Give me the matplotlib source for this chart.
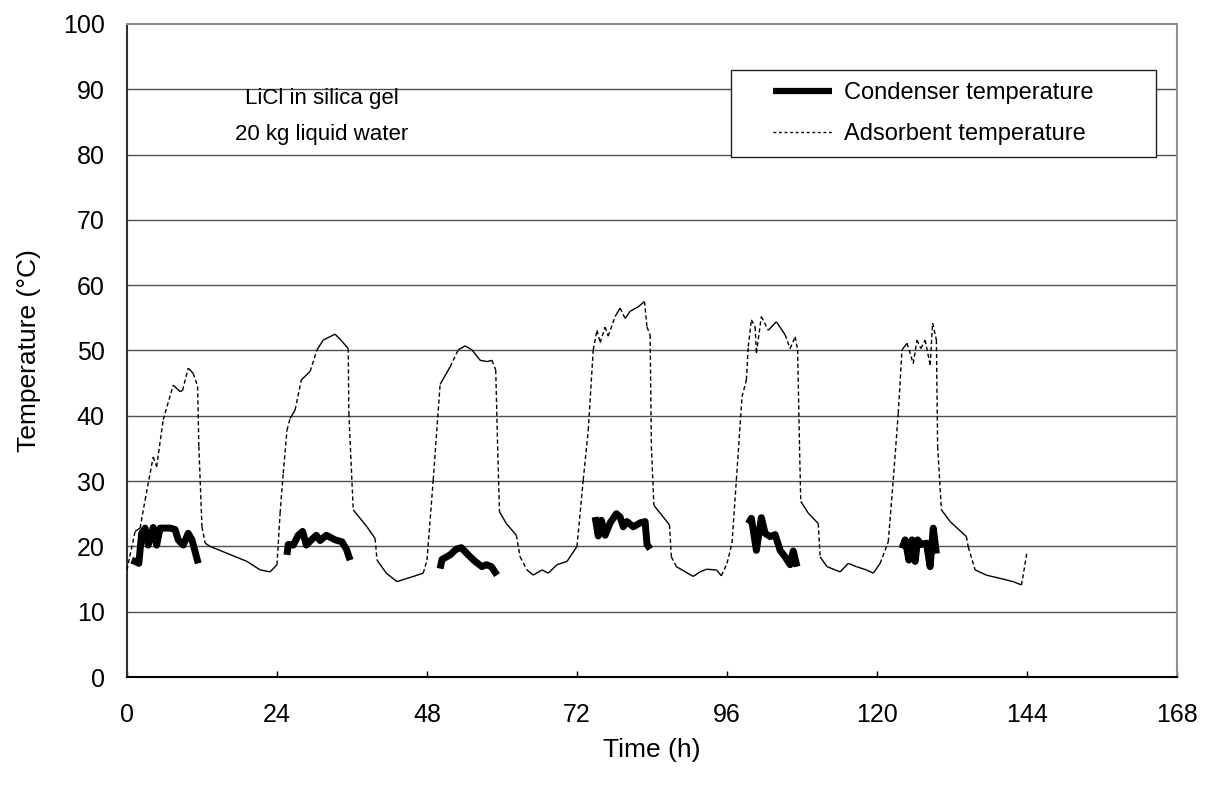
import numpy as np
import matplotlib
matplotlib.use('Agg')
import matplotlib.pyplot as plt
from matplotlib.collections import LineCollection
from matplotlib.patches import Rectangle
from matplotlib.lines import Line2D

plt.rcParams['font.family'] = ['Liberation Sans', 'DejaVu Sans']

# adsorbent temperature (thin, dotted where it changes fast)
ads_t = [0.0, 1.3, 2.1, 2.9, 4.2, 4.75, 5.8, 7.4, 8.5, 8.9, 9.8, 10.6, 11.3, 11.5, 12.0,
         12.5, 13.3, 19.2, 21.3, 22.9, 24.0, 24.5, 25.0, 25.6, 26.1, 26.9, 27.9, 29.3,
         30.4, 31.4, 33.3, 34.4, 35.4, 35.5, 36.2, 38.4, 39.7, 40.0, 41.5, 43.2, 44.8,
         45.5, 47.4, 48.0, 49.0, 50.1, 51.7, 53.0, 54.1, 55.2, 56.5, 57.6, 58.4, 59.0,
         59.3, 59.6, 60.7, 62.3, 62.9, 64.0, 65.0, 66.4, 67.4, 68.8, 70.4, 72.0, 73.0,
         73.8, 74.6, 75.2, 75.7, 76.5, 77.0, 78.1, 78.9, 79.7, 80.5, 81.8, 82.8, 83.2,
         83.7, 83.9, 84.3, 85.8, 86.8, 87.1, 87.9, 90.6, 91.7, 92.7, 94.3, 95.1, 96.0,
         96.8, 97.5, 98.4, 99.1, 99.4, 99.9, 100.5, 100.7, 101.5, 102.6, 103.9, 105.3,
         106.1, 106.9, 107.3, 107.6, 107.8, 109.0, 110.6, 110.9, 112.0, 114.1, 115.4,
         116.7, 118.3, 119.4, 120.5, 121.8, 122.6, 123.4, 124.0, 124.8, 125.8, 126.4,
         127.0, 127.7, 128.5, 128.9, 129.5, 129.7, 130.3, 131.7, 134.3, 134.6, 135.7,
         137.5, 139.7, 141.8, 143.1, 143.3, 143.95]
ads_T = [16.4, 22.3, 22.8, 27.1, 33.7, 32.2, 39.4, 44.7, 43.7, 43.9, 47.3, 46.5, 44.5, 35.3, 23.0,
         20.5, 20.0, 17.7, 16.4, 16.1, 17.2, 25.1, 31.2, 37.8, 39.6, 40.9, 45.5, 46.8,
         50.1, 51.6, 52.5, 51.4, 50.3, 40.4, 25.6, 23.0, 21.2, 17.9, 15.9, 14.6, 15.1,
         15.3, 15.9, 17.9, 30.2, 44.8, 47.5, 50.1, 50.7, 50.1, 48.5, 48.3, 48.5, 47.0,
         35.3, 25.3, 23.5, 21.7, 18.4, 16.4, 15.6, 16.4, 15.9, 17.2, 17.7, 20.0, 30.2,
         37.8, 50.1, 53.1, 51.2, 53.6, 52.2, 55.2, 56.5, 54.9, 56.0, 56.7, 57.5, 53.6,
         52.4, 35.3, 26.3, 24.5, 23.3, 18.4, 16.9, 15.4, 16.1, 16.5, 16.4, 15.5, 17.4,
         20.5, 30.2, 42.9, 45.5, 50.6, 54.7, 53.6, 49.6, 55.2, 53.1, 54.4, 52.4,
         50.3, 52.1, 50.1, 35.3, 26.9, 25.1, 23.5, 18.4, 16.9, 16.1, 17.4,
         16.9, 16.4, 15.9, 17.4, 20.7, 30.2, 40.4, 50.1, 51.1, 48.0, 51.6,
         50.3, 51.6, 47.8, 54.2, 51.6, 35.3, 25.6, 23.8, 21.5, 19.9, 16.4,
         15.6, 15.1, 14.6, 14.1, 15.1, 18.9]

# condenser temperature (thick), one run per day, nan = gap
nan = np.nan
con_t = [0.75, 1.3, 1.9, 2.35, 2.9, 3.4, 4.2, 4.75, 5.3, 6.9, 7.7, 8.2, 9.0, 9.8, 10.4, 11.4, nan,
         25.6, 25.8, 26.6, 27.4, 28.1, 28.7, 29.5, 30.3, 30.9, 31.9, 33.3, 34.4, 35.1, 35.7, nan,
         50.1, 50.4, 51.7, 52.7, 53.5, 54.6, 55.7, 56.8, 57.5, 58.3, 59.2, nan,
         74.9, 75.4, 75.9, 76.5, 77.3, 78.3, 78.9, 79.4, 80.0, 81.0, 82.1, 82.9, 83.2, 83.7, nan,
         99.4, 99.9, 100.7, 101.5, 102.1, 102.9, 103.7, 104.5, 105.3, 106.1, 106.6, 107.2, nan,
         124.0, 124.5, 125.1, 125.6, 126.1, 126.5, 127.1, 127.9, 128.5, 129.0, 129.5]
con_T = [17.9, 17.7, 17.4, 22.0, 22.8, 20.2, 22.9, 20.2, 22.8, 22.8, 22.6, 21.0, 20.2, 22.0, 21.0, 17.4, nan,
         18.7, 20.3, 20.2, 21.7, 22.3, 20.2, 21.0, 21.7, 20.9, 21.7, 21.0, 20.7, 19.6, 17.9, nan,
         16.6, 18.0, 18.7, 19.6, 19.8, 18.7, 17.7, 16.9, 17.2, 16.9, 15.6, nan,
         24.5, 21.6, 24.0, 21.7, 23.6, 25.0, 24.5, 23.0, 23.8, 23.0, 23.6, 23.8, 20.3, 19.6, nan,
         23.5, 24.3, 19.4, 24.4, 22.0, 21.5, 21.8, 19.4, 18.4, 17.2, 19.3, 16.9, nan,
         19.7, 21.0, 17.9, 21.0, 17.7, 21.0, 20.3, 20.5, 16.9, 22.8, 18.9]

x_ticks = [0, 24, 48, 72, 96, 120, 144, 168]
y_ticks = list(range(0, 101, 10))

fig = plt.figure(figsize=(12.22, 7.92), dpi=100)
ax = fig.add_axes([0.1039, 0.1452, 0.8593, 0.8245])

ax.set_xlim(0, 168)
ax.set_ylim(0, 100)
ax.set_xticks(x_ticks)
ax.set_yticks(y_ticks)

for y in y_ticks[1:-1]:
    ax.axhline(y, color='#505050', lw=1.0, zorder=1)

# excel-like dashing: each segment starts its own dash, so slow parts look solid
pts = np.column_stack([ads_t, ads_T])
segs = [pts[i:i + 2] for i in range(len(pts) - 1)]
styles = []
for s in segs:
    slope = abs((s[1, 1] - s[0, 1]) / (s[1, 0] - s[0, 0]))
    styles.append((0, (3, 2)) if slope > 1.8 else 'solid')
lc = LineCollection(segs, colors='black', linewidths=1.0, linestyles=styles, zorder=3)
ax.add_collection(lc)

ax.plot(con_t, con_T, color='black', lw=5.0, solid_capstyle='butt', zorder=4)

for side in ['top', 'right']:
    ax.spines[side].set_color('#909090')
    ax.spines[side].set_linewidth(1.5)
ax.spines['left'].set_color('#303030')
ax.spines['left'].set_linewidth(1.5)
ax.spines['bottom'].set_color('black')
ax.spines['bottom'].set_linewidth(1.5)

ax.tick_params(axis='x', direction='in', length=4, width=1, labelsize=18, pad=19)
ax.tick_params(axis='y', length=0, labelsize=18, pad=16)

ax.set_xlabel('Time (h)', fontsize=19)
ax.set_ylabel('Temperature (°C)', fontsize=19)
ax.xaxis.set_label_coords(0.5, -0.094)
ax.yaxis.set_label_coords(-0.082, 0.5)

ax.text(31.2, 88.6, 'LiCl in silica gel', fontsize=16, ha='center', va='center', zorder=5)
ax.text(31.2, 83.1, '20 kg liquid water', fontsize=16, ha='center', va='center', zorder=5)

# legend box
ax.add_patch(Rectangle((0.5752, 0.7963), 0.4048, 0.1333, transform=ax.transAxes,
                       facecolor='white', edgecolor='#202020', lw=1.0, zorder=6))
handles = [Line2D([], [], color='black', lw=4.5, solid_capstyle='butt'),
           Line2D([], [], color='black', lw=1.0, linestyle=(0, (2, 2)))]
leg = ax.legend(handles, ['Condenser temperature', 'Adsorbent temperature'],
                loc='upper left', bbox_to_anchor=(0.615, 0.911), frameon=False,
                fontsize=17, borderpad=0, borderaxespad=0, handlelength=2.5,
                handletextpad=0.5, labelspacing=0.8)
leg.set_zorder(7)

plt.savefig('out.png', dpi=100)
